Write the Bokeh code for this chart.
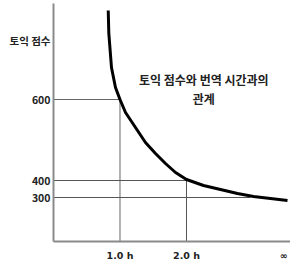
from bokeh.plotting import figure
from bokeh.models import Range1d, FixedTicker
from bokeh.core.properties import value
from bokeh.embed import file_html
from bokeh.resources import INLINE

# schematic chart: x in hours (∞ drawn at 3.46), y in schematic height units
curve_x = [0.823, 0.832, 0.872, 0.932, 1.0, 1.083, 1.233, 1.383, 1.534, 1.684, 1.835,
           2.0, 2.256, 2.511, 2.767, 3.008, 3.263, 3.519]
curve_y = [231, 208, 174, 154, 142, 129, 114, 99, 88, 78, 69,
           62, 56, 52, 48, 45, 43, 41]

score_pos = [44, 61, 142, 201]
score_labels = ["300", "400", "600", "토익 점수"]

hour_pos = [1.0, 2.0, 3.46]
hour_labels = ["1.0 h", "2.0 h", "∞"]

guide_600 = (1.0, 142)
guide_400 = (2.0, 61)
guide_300 = (2.96, 44)

title_lines = ["토익 점수와 번역 시간과의", "관계"]
title_x = [2.26, 2.26]
title_y = [162, 143]

FONT = "Noto Sans CJK KR"

p = figure(width=290, height=263, output_backend="svg", toolbar_location=None,
           x_range=Range1d(0, 3.564), y_range=Range1d(0, 238),
           min_border_left=53, min_border_right=0, min_border_top=3, min_border_bottom=22)
p.outline_line_color = None
p.grid.visible = False
p.background_fill_color = "white"
p.border_fill_color = "white"

# y axis
p.yaxis.axis_label = None
p.yaxis.ticker = FixedTicker(ticks=score_pos)
p.yaxis.major_label_overrides = {v: l for v, l in zip(score_pos, score_labels)}
p.yaxis.major_tick_line_color = None
p.yaxis.minor_tick_line_color = None
p.yaxis.major_tick_out = 0
p.yaxis.major_tick_in = 0
p.yaxis.minor_tick_out = 0
p.yaxis.major_label_standoff = 3
p.yaxis.axis_line_color = "#8a8a8a"
p.yaxis.axis_line_width = 2
p.yaxis.major_label_text_font = FONT
p.yaxis.major_label_text_font_style = "bold"
p.yaxis.major_label_text_font_size = "10.5px"
p.yaxis.major_label_text_color = "#222222"

# x axis (baseline)
p.xaxis.axis_label = None
p.xaxis.ticker = FixedTicker(ticks=hour_pos)
p.xaxis.major_label_overrides = {v: l for v, l in zip(hour_pos, hour_labels)}
p.xaxis.major_tick_line_color = None
p.xaxis.minor_tick_line_color = None
p.xaxis.major_tick_out = 0
p.xaxis.major_tick_in = 0
p.xaxis.minor_tick_out = 0
p.xaxis.axis_line_color = "#8a8a8a"
p.xaxis.axis_line_width = 2
p.xaxis.major_label_standoff = 8
p.xaxis.major_label_text_font = "DejaVu Sans"
p.xaxis.major_label_text_font_style = "bold"
p.xaxis.major_label_text_font_size = "9.5px"
p.xaxis.major_label_text_color = "#222222"

# guide lines
gx, gy = guide_600
p.segment(x0=[0, gx], y0=[gy, 0], x1=[gx, gx], y1=[gy, gy], line_color="#666666", line_width=1)
gx, gy = guide_400
p.segment(x0=[0, gx], y0=[gy, 0], x1=[gx, gx], y1=[gy, gy], line_color="#555555", line_width=1)
gx, gy = guide_300
p.segment(x0=[0], y0=[gy], x1=[gx], y1=[gy], line_color="#555555", line_width=1)

# curve
p.line(curve_x, curve_y, line_color="black", line_width=3)

# title
p.text(x=title_x, y=title_y, text=title_lines, text_align="center", text_baseline="middle",
       text_font=value(FONT), text_font_style="bold", text_font_size="12px", text_color="#222222")

open("out.html", "w").write(file_html(p, INLINE))
